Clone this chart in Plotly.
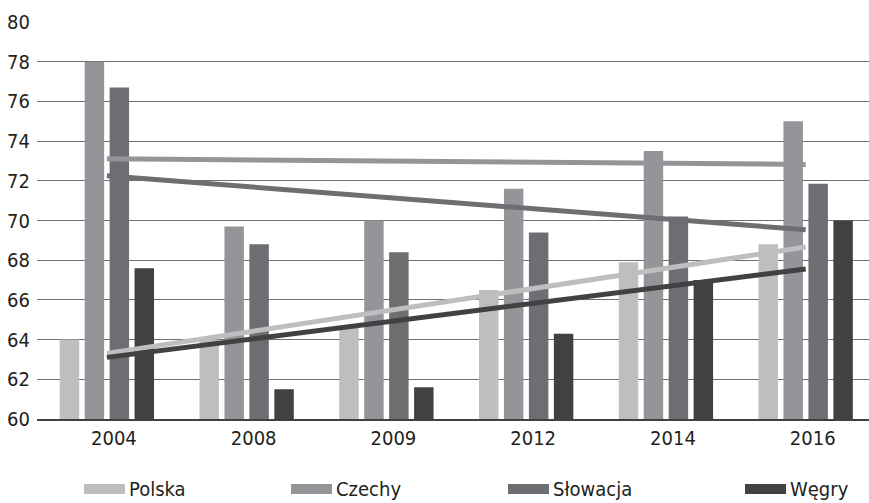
import numpy as np
import plotly.graph_objects as go

# Category labels (years) and series values
years = ["2004", "2008", "2009", "2012", "2014", "2016"]
polska = [64.0, 64.0, 64.7, 66.5, 67.9, 68.8]
czechy = [78.0, 69.7, 70.0, 71.6, 73.5, 75.0]
slowacja = [76.7, 68.8, 68.4, 69.4, 70.2, 71.85]
wegry = [67.6, 61.5, 61.6, 64.3, 67.0, 70.0]

names = ["Polska", "Czechy", "Słowacja", "Węgry"]
colors = ["#bcbec0", "#939598", "#6d6e71", "#414042"]
series = [polska, czechy, slowacja, wegry]

FONT = "DejaVu Sans Condensed, Liberation Sans Narrow, sans-serif"

fig = go.Figure()

for name, vals, col in zip(names, series, colors):
    fig.add_trace(go.Bar(x=years, y=vals, name=name, marker=dict(color=col, line=dict(width=0)),
                         showlegend=False))

# Linear trend lines over category index
idx = np.arange(len(years))
for name, vals, col in zip(names, series, colors):
    slope, intercept = np.polyfit(idx, np.array(vals), 1)
    fit = slope * idx + intercept
    fig.add_trace(go.Scatter(x=years, y=fit, mode="lines", name=name + " trend",
                             line=dict(color=col, width=5), showlegend=False))

# Custom wide legend swatches
legend_x = [84, 291, 508, 745]
W, H = 869, 503
PW, PH = W - 37, 397.3
shapes = []
annotations = []
for lx, name, col in zip(legend_x, names, colors):
    shapes.append(dict(type="rect", xref="paper", yref="paper",
                       x0=(lx - 37) / PW, x1=(lx + 41 - 37) / PW,
                       y0=-(494 - 419) / PH, y1=-(484 - 419) / PH,
                       fillcolor=col, line=dict(width=0)))
    annotations.append(dict(text=name, xref="paper", yref="paper",
                            x=(lx + 43 - 37) / PW, y=-(489 - 419) / PH,
                            xanchor="left", yanchor="middle", showarrow=False,
                            font=dict(family=FONT, size=20, color="#231f20")))

fig.update_layout(
    width=W, height=H,
    margin=dict(l=37, r=0, t=22, b=84),
    paper_bgcolor="white", plot_bgcolor="white",
    barmode="group", bargap=0.286, bargroupgap=0.22,
    shapes=shapes, annotations=annotations,
    font=dict(family=FONT, size=20, color="#231f20"),
)
fig.update_xaxes(type="category", range=[-0.5, 5.453], showgrid=False,
                 showline=True, linecolor="#404040", linewidth=1.5,
                 ticks="", tickfont=dict(size=20), ticklabelshift=7)
fig.update_yaxes(range=[60, 80], dtick=2, showgrid=True, gridcolor="#6f6f6f", gridwidth=1.3,
                 zeroline=False, ticks="", tickfont=dict(size=20), ticklabelstandoff=6)

fig.write_html("out.html")
